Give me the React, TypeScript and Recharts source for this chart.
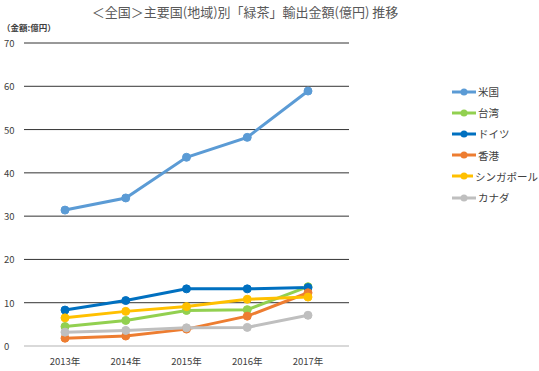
import React from 'react';
import { LineChart, Line, XAxis, YAxis, CartesianGrid, Legend } from 'recharts';

const years = ['2013年', '2014年', '2015年', '2016年', '2017年'];

const usa = [31.4, 34.2, 43.6, 48.2, 58.9];
const taiwan = [4.5, 5.9, 8.2, 8.4, 13.7];
const germany = [8.3, 10.5, 13.2, 13.2, 13.5];
const hongKong = [1.8, 2.3, 3.9, 6.9, 12.3];
const singapore = [6.5, 8.0, 9.1, 10.8, 11.3];
const canada = [3.2, 3.6, 4.2, 4.3, 7.1];

const yTicks = [0, 10, 20, 30, 40, 50, 60, 70];

const series = [
  { key: 'us', name: '米国', values: usa, color: '#5B9BD5' },
  { key: 'tw', name: '台湾', values: taiwan, color: '#92D050' },
  { key: 'de', name: 'ドイツ', values: germany, color: '#0070C0' },
  { key: 'hk', name: '香港', values: hongKong, color: '#ED7D31' },
  { key: 'sg', name: 'シンガポール', values: singapore, color: '#FFC000' },
  { key: 'ca', name: 'カナダ', values: canada, color: '#BFBFBF' },
];

const data = years.map((year, i) => {
  const row: Record<string, string | number> = { year };
  series.forEach(s => { row[s.key] = s.values[i]; });
  return row;
});

const font = '"Noto Sans CJK JP", "Noto Sans", sans-serif';

const YTick = (props: any) => {
  const { y, payload } = props;
  return (
    <text x={4} y={y} dy={4} fontSize={9.5} fill="#404040" fontFamily={font} textAnchor="start">
      {payload.value}
    </text>
  );
};

const LegendContent = () => (
  <div style={{ fontFamily: font, fontSize: 10.5, color: '#404040' }}>
    {series.map(s => (
      <div key={s.key} style={{ display: 'flex', alignItems: 'center', height: 21.2, whiteSpace: 'nowrap' }}>
        <svg width={24} height={10} style={{ marginRight: 2 }}>
          <line x1={0} y1={5} x2={24} y2={5} stroke={s.color} strokeWidth={3} />
          <circle cx={12} cy={5} r={3.5} fill={s.color} />
        </svg>
        <span>{s.name}</span>
      </div>
    ))}
  </div>
);

export default function App() {
  return (
    <div style={{ position: 'absolute', left: 0, top: 0, width: 539, height: 371, background: '#fff', fontFamily: font, overflow: 'hidden' }}>
      <div style={{ position: 'absolute', left: 0, width: 490, top: 2, textAlign: 'center', fontSize: 13, color: '#595959', whiteSpace: 'nowrap' }}>
        ＜全国＞主要国(地域)別「緑茶」輸出金額(億円) 推移
      </div>
      <div style={{ position: 'absolute', left: 2, top: 21, fontSize: 8.5, fontWeight: 'bold', color: '#404040', whiteSpace: 'nowrap' }}>
        （金額:億円）
      </div>
      <LineChart width={539} height={371} data={data} margin={{ top: 43, right: 104, bottom: 5, left: 0 }}>
        <CartesianGrid vertical={false} horizontalValues={[10, 20, 30, 40, 50, 60, 70]} stroke="#333" strokeWidth={1} />
        <XAxis
          dataKey="year"
          height={20}
          padding={{ left: 41, right: 41 }}
          axisLine={{ stroke: '#D9D9D9', strokeWidth: 2 }}
          tickLine={false}
          tick={{ fontSize: 9.5, fill: '#404040', fontFamily: font }}
          tickMargin={6}
        />
        <YAxis
          width={24}
          domain={[0, 70]}
          ticks={yTicks}
          axisLine={false}
          tickLine={false}
          tick={<YTick />}
          interval={0}
        />
        <Legend
          layout="vertical"
          align="right"
          verticalAlign="top"
          content={<LegendContent />}
          wrapperStyle={{ left: 452, top: 81, width: 86 }}
        />
        {series.map(s => (
          <Line
            key={s.key}
            dataKey={s.key}
            name={s.name}
            stroke={s.color}
            strokeWidth={3}
            dot={{ r: 4, fill: s.color, stroke: s.color, strokeWidth: 1 }}
            isAnimationActive={false}
          />
        ))}
      </LineChart>
    </div>
  );
}
